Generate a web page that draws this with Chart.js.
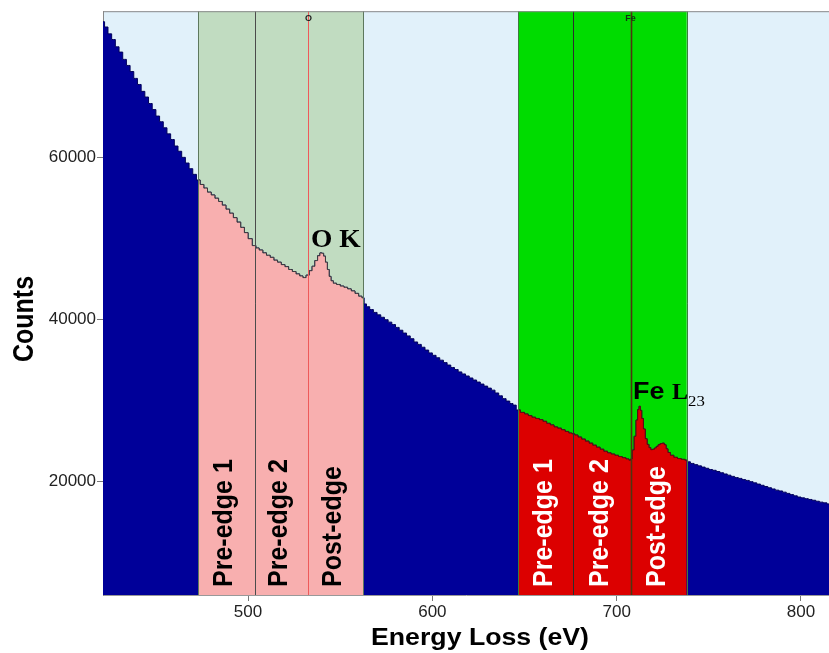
<!DOCTYPE html>
<html>
<head>
<meta charset="utf-8">
<script src="https://cdn.jsdelivr.net/npm/chart.js@4.4.1/dist/chart.umd.min.js"></script>
<style>
  html, body { margin: 0; padding: 0; background: #ffffff; }
  #wrap { width: 829px; height: 653px; }
</style>
</head>
<body>
<div id="wrap"><canvas id="spectrum" width="829" height="653"></canvas></div>
<script>
// EELS spectrum: energy loss (eV) and counts per channel
const energy = [
  421.3, 423, 425, 427, 429, 431, 433, 435, 437, 439, 441, 443, 445, 447, 449, 451, 453, 455, 457, 459,
  461, 463, 465, 467, 469, 471, 473, 475, 477, 479, 481, 483, 485, 487, 489, 491, 493, 495, 497, 499,
  501, 503.5, 505, 507, 509, 511, 513, 515, 517, 519, 521, 523, 525, 527, 529, 530.5, 532.5, 534, 535.5, 537,
  538.5, 539.5, 540.5, 541.5, 542.5, 543.5, 544.5, 545.5, 547, 549, 551, 553, 555, 557, 559, 561, 562.5, 563.5, 565, 567,
  569, 571, 573, 575, 577, 579, 581, 583, 585, 587, 589, 591, 593, 595, 597, 599, 601, 603, 605, 607,
  609, 611, 613, 615, 617, 619, 621, 623, 625, 627, 629, 631, 633, 635, 637, 639, 641, 643, 644.5, 646.5,
  649, 651, 653, 655, 657, 659, 661, 663, 665, 667, 669, 671, 673, 675, 676.5, 678, 680, 682, 684, 686,
  688, 690, 692, 694, 696, 698, 700, 702, 704, 706, 707.3, 708, 709, 710, 711, 711.8, 712.5, 713.2, 714, 715,
  716, 717, 718, 719, 720, 721, 722, 723, 724.2, 725.3, 726.3, 727.3, 728.3, 730, 732, 734, 736, 738, 739, 741,
  743, 745, 747, 749, 751, 753, 755, 757, 759, 761, 763, 765, 767, 769, 771, 773, 775, 777, 779, 781,
  783, 785, 787, 789, 791, 793, 795, 797, 799, 801, 803, 805, 807, 809, 811, 813, 815.2
];
const counts = [
  76800, 76150, 75300, 74600, 73700, 73050, 72150, 71400, 70650, 69800, 69050, 68200, 67500, 66700, 65950, 65150, 64450, 63700, 62950, 62250,
  61450, 60800, 60050, 59350, 58650, 57950, 57250, 56700, 56250, 55750, 55400, 55000, 54600, 54150, 53650, 53150, 52600, 52050, 51400, 50750,
  50000, 49150, 48850, 48600, 48250, 47950, 47700, 47350, 47100, 46800, 46550, 46200, 45950, 45650, 45400, 45200, 45500, 46050, 46600, 47300,
  47900, 48250, 48200, 47850, 47100, 46200, 45350, 44800, 44500, 44350, 44150, 44000, 43800, 43550, 43250, 42900, 42700, 41950, 41600, 41250,
  40900, 40600, 40300, 40000, 39700, 39400, 39050, 38700, 38350, 38000, 37650, 37250, 36950, 36600, 36250, 35900, 35600, 35300, 35000, 34700,
  34400, 34100, 33850, 33550, 33300, 33050, 32800, 32550, 32300, 32050, 31800, 31550, 31300, 30950, 30600, 30250, 29950, 29650, 29450, 28850,
  28550, 28350, 28150, 27950, 27800, 27650, 27450, 27200, 27000, 26750, 26600, 26400, 26200, 26000, 25900, 25750, 25500, 25250, 25000, 24750,
  24500, 24250, 24000, 23750, 23550, 23400, 23250, 23100, 22950, 22800, 22650, 22800, 23900, 25600, 27600, 28900, 29300, 28800, 27800, 26500,
  25300, 24600, 24200, 23950, 24000, 24150, 24350, 24550, 24700, 24750, 24550, 24050, 23600, 23250, 23000, 22850, 22750, 22650, 22450, 22250,
  22100, 21950, 21800, 21650, 21500, 21400, 21250, 21100, 20950, 20800, 20650, 20500, 20400, 20250, 20150, 20000, 19850, 19700, 19550, 19400,
  19250, 19100, 18950, 18850, 18700, 18550, 18400, 18250, 18100, 18000, 17900, 17800, 17700, 17580, 17470, 17380, 17250
];

// Background-subtraction windows (eV): edges of pre-edge 1, pre-edge 2, post-edge
const oWindowEdges = [473, 503.5, 532.5, 562.5];
const feWindowEdges = [646.5, 676.5, 708, 738];
const windowLabels = ['Pre-edge 1', 'Pre-edge 2', 'Post-edge'];
const edgeMarkers = [{ name: 'O', energy: 532.5 }, { name: 'Fe', energy: 708 }];

const xTicks = [500, 600, 700, 800];
const yTicks = [20000, 40000, 60000];
const xRange = [421.3, 815.2];
const yRange = [6000, 78100];

const points = energy.map((e, i) => ({ x: e, y: counts[i] }));
const inRange = (lo, hi) => points.filter(p => p.x >= lo && p.x <= hi);

const COLORS = {
  plotBg: '#e1f1fa',
  spectrum: '#000099',
  oBand: '#c1dcc1',
  oFill: '#f8afaf',
  feBand: '#00dc00',
  feFill: '#dc0000'
};

// Horizontal stretch used for the annotation lettering
const SX = 1.13;

function drawText(ctx, text, x, y, font, color, align, baseline, sx) {
  ctx.save();
  ctx.translate(x, y);
  ctx.scale(sx || 1, 1);
  ctx.font = font;
  ctx.fillStyle = color;
  ctx.textAlign = align;
  ctx.textBaseline = baseline;
  ctx.fillText(text, 0, 0);
  ctx.restore();
}

function vline(ctx, x, top, bottom, color, width) {
  const px = Math.round(x) + 0.5;
  ctx.save();
  ctx.strokeStyle = color;
  ctx.lineWidth = width;
  ctx.beginPath();
  ctx.moveTo(px, top);
  ctx.lineTo(px, bottom);
  ctx.stroke();
  ctx.restore();
}

const backdrop = {
  id: 'backdrop',
  beforeDraw(chart) {
    const { ctx, chartArea: a, scales: { x } } = chart;
    ctx.save();
    ctx.fillStyle = COLORS.plotBg;
    ctx.fillRect(a.left, a.top, a.right - a.left, a.bottom - a.top);
    const band = (edges, color) => {
      const l = x.getPixelForValue(edges[0]);
      const r = x.getPixelForValue(edges[edges.length - 1]);
      ctx.fillStyle = color;
      ctx.fillRect(l, a.top, r - l, a.bottom - a.top);
    };
    band(oWindowEdges, COLORS.oBand);
    band(feWindowEdges, COLORS.feBand);
    ctx.restore();
  }
};

const overlay = {
  id: 'overlay',
  afterDatasetsDraw(chart) {
    const { ctx, chartArea: a, scales: { x } } = chart;
    const t = a.top, b = a.bottom;

    // window edges
    const px = v => x.getPixelForValue(v);
    vline(ctx, px(oWindowEdges[0]), t, b, '#5d785d', 1);
    vline(ctx, px(oWindowEdges[1]), t, b, '#4b4b4b', 1);
    vline(ctx, px(oWindowEdges[3]), t, b, '#5d785d', 1);
    vline(ctx, px(feWindowEdges[0]), t, b, '#3f7a3f', 1);
    vline(ctx, px(feWindowEdges[1]), t, b, '#2d2d2d', 1);
    vline(ctx, px(feWindowEdges[3]), t, b, '#3f7a3f', 1);

    // edge onset markers
    vline(ctx, px(edgeMarkers[0].energy), t, b, '#ee5a5a', 1);
    vline(ctx, px(edgeMarkers[1].energy), t, b, '#4e3510', 1.6);
    drawText(ctx, edgeMarkers[0].name, px(edgeMarkers[0].energy) + 0.5, t + 7, 'bold 9px "Liberation Sans"', '#222', 'center', 'middle', 1);
    drawText(ctx, edgeMarkers[1].name, px(edgeMarkers[1].energy) - 1, t + 7, 'bold 9px "Liberation Sans"', '#123312', 'center', 'middle', 1);

    // rotated window labels
    const labelRow = (edges, color) => {
      for (let i = 0; i < 3; i++) {
        const cx = (px(edges[i]) + px(edges[i + 1])) / 2 - 2;
        ctx.save();
        ctx.translate(cx, b - 8);
        ctx.rotate(-Math.PI / 2);
        ctx.scale(1, SX);
        ctx.font = 'bold 25px "Liberation Sans"';
        ctx.fillStyle = color;
        ctx.textAlign = 'left';
        ctx.textBaseline = 'middle';
        ctx.fillText(windowLabels[i], 0, 0);
        ctx.restore();
      }
    };
    labelRow(oWindowEdges, '#000000');
    labelRow(feWindowEdges, '#ffffff');

    // edge annotations
    drawText(ctx, 'O K', 311, 247, 'bold 25px "Liberation Serif"', '#000', 'left', 'alphabetic', 1.1);
    drawText(ctx, 'Fe', 633, 399, 'bold 24px "Liberation Sans"', '#000', 'left', 'alphabetic', 1.12);
    drawText(ctx, 'L', 672, 399, 'bold 24px "Liberation Serif"', '#000', 'left', 'alphabetic', 1.0);
    drawText(ctx, '23', 688, 406, '15px "Liberation Serif"', '#000', 'left', 'alphabetic', 1.12);

    // top frame
    ctx.save();
    ctx.strokeStyle = '#8a8a8a';
    ctx.lineWidth = 1;
    ctx.beginPath();
    ctx.moveTo(a.left, t + 0.5);
    ctx.lineTo(a.right, t + 0.5);
    ctx.stroke();
    ctx.restore();
  },
  afterDraw(chart) {
    const { ctx } = chart;
    // axis titles
    drawText(ctx, 'Energy Loss (eV)', 480, 645, 'bold 23px "Liberation Sans"', '#000', 'center', 'alphabetic', 1.16);
    ctx.save();
    ctx.translate(33, 319);
    ctx.rotate(-Math.PI / 2);
    ctx.scale(1, 1.15);
    ctx.font = 'bold 25px "Liberation Sans"';
    ctx.fillStyle = '#000';
    ctx.textAlign = 'center';
    ctx.textBaseline = 'alphabetic';
    ctx.fillText('Counts', 0, 0);
    ctx.restore();
  }
};

const plainNumber = v => String(v);

new Chart(document.getElementById('spectrum'), {
  type: 'line',
  data: {
    datasets: [
      {
        label: 'Spectrum',
        data: points,
        order: 3,
        borderColor: '#00005a',
        borderWidth: 1,
        backgroundColor: COLORS.spectrum,
        fill: 'start',
        pointRadius: 0,
        stepped: 'middle'
      },
      {
        label: 'O K windows',
        data: inRange(oWindowEdges[0], oWindowEdges[3]),
        order: 1,
        borderColor: '#3a3a3a',
        borderWidth: 1,
        backgroundColor: COLORS.oFill,
        fill: 'start',
        pointRadius: 0,
        stepped: 'middle'
      },
      {
        label: 'Fe L23 windows',
        data: inRange(feWindowEdges[0], feWindowEdges[3]),
        order: 2,
        borderColor: '#5a1010',
        borderWidth: 1,
        backgroundColor: COLORS.feFill,
        fill: 'start',
        pointRadius: 0,
        stepped: 'middle'
      }
    ]
  },
  options: {
    responsive: false,
    animation: false,
    devicePixelRatio: 1,
    layout: { padding: { top: 10, right: 0, left: 0, bottom: 0 } },
    plugins: { legend: { display: false }, tooltip: { enabled: false } },
    scales: {
      x: {
        type: 'linear',
        min: xRange[0],
        max: xRange[1],
        afterBuildTicks: s => { s.ticks = xTicks.map(v => ({ value: v })); },
        afterFit: s => { s.height = 58; },
        ticks: { font: { family: 'Liberation Sans', size: 17 }, color: '#222', padding: 1, maxRotation: 0, callback: plainNumber },
        grid: { drawOnChartArea: false, drawTicks: true, tickLength: 6, color: '#777' },
        border: { display: true, color: '#999' }
      },
      y: {
        type: 'linear',
        min: yRange[0],
        max: yRange[1],
        afterBuildTicks: s => { s.ticks = yTicks.map(v => ({ value: v })); },
        afterFit: s => { s.width = 103; },
        ticks: { font: { family: 'Liberation Sans', size: 17 }, color: '#222', padding: 1, callback: plainNumber },
        grid: { drawOnChartArea: false, drawTicks: true, tickLength: 6, color: '#777' },
        border: { display: true, color: '#888' }
      }
    }
  },
  plugins: [backdrop, overlay]
});
</script>
</body>
</html>
